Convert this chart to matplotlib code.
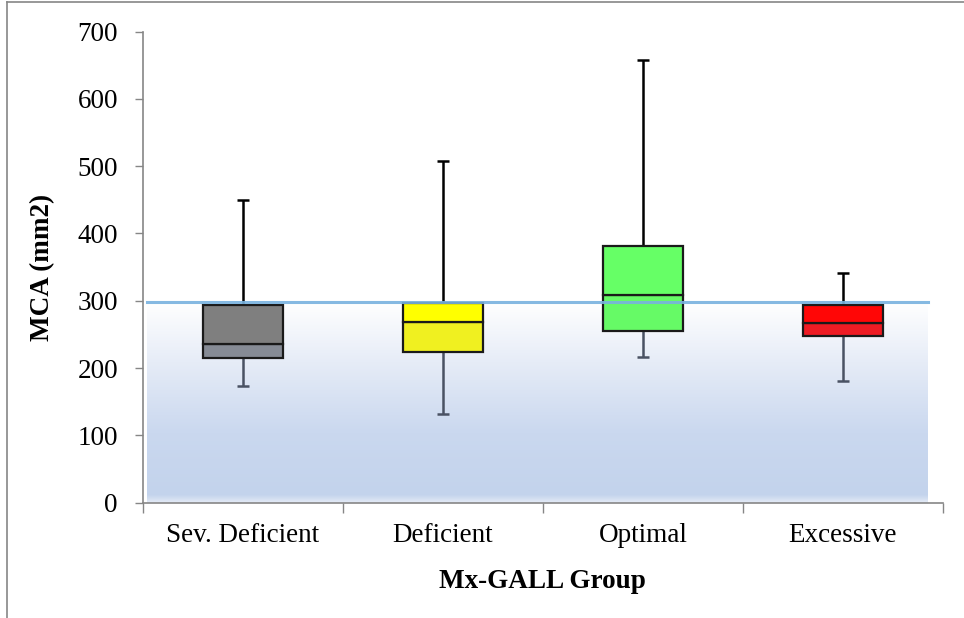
import matplotlib

matplotlib.use("Agg")
import matplotlib.pyplot as plt
import numpy as np
from matplotlib.colors import LinearSegmentedColormap
from matplotlib.lines import Line2D


GROUPS = ["Sev. Deficient", "Deficient", "Optimal", "Excessive"]
MINS = [173, 131, 216, 181]
Q1S = [215, 224, 255, 247]
MEDIANS = [236, 269, 308, 267]
Q3S = [294, 297, 382, 294]
MAXS = [449, 507, 657, 341]
REFERENCE = 298

UPPER_COLORS = ["#7f7f7f", "#ffff00", "#66ff66", "#ff0606"]
LOWER_COLORS = ["#868b95", "#f0f020", "#66fa66", "#ee1c24"]


def main() -> None:
    plt.rcParams.update({"font.family": ["Liberation Serif", "DejaVu Serif"], "font.size": 19.5})

    fig = plt.figure(figsize=(9.64, 6.18), dpi=100)
    ax = fig.add_axes([0.1483, 0.1867, 0.8297, 0.7623])

    x = np.arange(len(GROUPS))

    # shaded band under the reference line
    cmap = LinearSegmentedColormap.from_list(
        "band",
        [(0.0, "#e4ebf6"), (0.04, "#c3d3ec"), (0.35, "#cad8ef"), (0.7, "#e6ecf7"), (1.0, "#ffffff")],
    )
    grad = np.linspace(0, 1, 256).reshape(-1, 1)
    ax.imshow(grad, cmap=cmap, origin="lower", aspect="auto",
              extent=[-0.48, 3.425, 0, REFERENCE], zorder=0)

    width = 0.4
    ax.bar(x, np.array(MEDIANS) - np.array(Q1S), bottom=Q1S, width=width,
           color=LOWER_COLORS, edgecolor="#1a1a1a", linewidth=1.6, zorder=3)
    ax.bar(x, np.array(Q3S) - np.array(MEDIANS), bottom=MEDIANS, width=width,
           color=UPPER_COLORS, edgecolor="#1a1a1a", linewidth=1.6, zorder=3)

    # whiskers
    ax.vlines(x, Q3S, MAXS, color="black", linewidth=1.8, zorder=2)
    ax.hlines(MAXS, x - 0.03, x + 0.03, color="black", linewidth=1.8, zorder=2)
    ax.vlines(x, MINS, Q1S, color="#4a5263", linewidth=1.8, zorder=2)
    ax.hlines(MINS, x - 0.03, x + 0.03, color="#4a5263", linewidth=1.8, zorder=2)

    ax.plot([-0.48, 3.425], [REFERENCE, REFERENCE], color="#78b2df", linewidth=2.2,
            alpha=0.9, zorder=4)

    ax.set_xlim(-0.5, 3.5)
    ax.set_ylim(0, 700)
    ax.set_yticks(range(0, 701, 100))
    ax.set_xticks(x, GROUPS)
    ax.set_xticks(np.arange(-0.5, 3.6, 1), minor=True)
    ax.tick_params(axis="x", which="major", length=0, pad=15)
    ax.tick_params(axis="x", which="minor", length=7, width=1, color="#868686")
    ax.tick_params(axis="y", length=6, width=1, color="#868686", pad=12)

    for side in ("top", "right"):
        ax.spines[side].set_visible(False)
    for side in ("left", "bottom"):
        ax.spines[side].set_color("#868686")
        ax.spines[side].set_linewidth(1.2)

    ax.set_ylabel("MCA (mm2)", fontweight="bold", labelpad=16)
    ax.set_xlabel("Mx-GALL Group", fontweight="bold", labelpad=15)

    # outer chart frame (only left and top edges visible)
    fig.add_artist(Line2D([0.0075, 0.0075], [0, 0.996], transform=fig.transFigure,
                          color="#868686", linewidth=1.2))
    fig.add_artist(Line2D([0.0075, 1.0], [0.996, 0.996], transform=fig.transFigure,
                          color="#868686", linewidth=1.2))

    fig.savefig("out.png", dpi=100)
    plt.close(fig)


if __name__ == "__main__":
    main()
